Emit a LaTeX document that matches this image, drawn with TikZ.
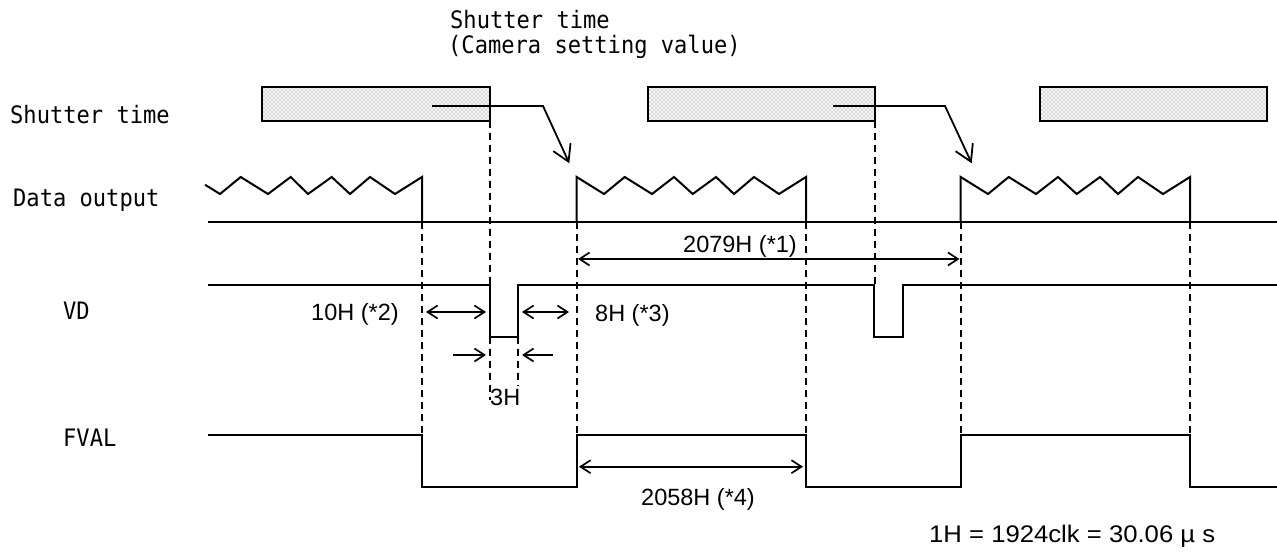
\documentclass[tikz,border=0pt]{standalone}
\usepackage{fontspec}
\setmainfont{Liberation Sans}
\newfontfamily\gothic[FakeStretch=0.92]{DejaVu Sans Mono}
\newfontfamily\widesans[FakeStretch=1.07]{Liberation Sans}
\usetikzlibrary{arrows.meta,patterns}
\pgfdeclarepatternformonly{sdots}{\pgfpoint{-1pt}{-1pt}}{\pgfpoint{5pt}{5pt}}{\pgfpoint{4pt}{4pt}}{%
  \pgfpathcircle{\pgfpoint{0pt}{0pt}}{0.7pt}%
  \pgfpathcircle{\pgfpoint{2pt}{2pt}}{0.7pt}%
  \pgfusepath{fill}}
\tikzset{
  sig/.style={line width=2pt, line join=miter},
  guide/.style={line width=1.7pt, dash pattern=on 7pt off 5pt},
  dim/.style={line width=1.7pt, >={Straight Barb[length=10pt,width=13pt]}},
  shut/.style={line width=1.8pt, -{Straight Barb[length=16pt,width=19pt]}},
  bar/.style={line width=2pt},
  glabel/.style={font=\gothic\fontsize{24}{28}\selectfont, inner sep=0pt, anchor=base west},
  nlabel/.style={font=\fontsize{23.5}{28}\selectfont, inner sep=0pt, anchor=base west},
}
\begin{document}
\begin{tikzpicture}[x=1pt,y=-1pt]
\useasboundingbox[fill=white] (0,0) rectangle (1277,552);

% ---- labels on the left ----
\node[glabel] (lshut) at (10,123) {Shutter time};
\node[glabel] (ldata) at (13,206.7) {Data output};
\node[glabel] (lvd) at (63,319.3) {VD};
\node[glabel] (lfval) at (63,446) {FVAL};
\node[glabel] (ltop1) at (450,28.3) {Shutter time};
\node[glabel] (ltop2) at (448,53) {(Camera setting value)};

% ---- shutter bars ----
\foreach \a/\b in {262/490, 648/875, 1040/1267} {
  \fill[gray!6] (\a,87) rectangle (\b,120.5);
  \fill[pattern=sdots, pattern color=black!55] (\a,87) rectangle (\b,120.5);
  \draw[bar] (\a,87) rectangle (\b,120.5);
}
\draw[shut] (432,106) -- (543,106) -- (569.3,163.3);
\draw[shut] (833,106) -- (945,106) -- (971.7,163.3);

% ---- data output ----
\draw[sig] (208,222) -- (1277,222);
\draw[sig] (205,184.7) -- (220,194) -- (240.7,177) -- (268,194) -- (290.7,177) -- (308,194)
  -- (331.7,177) -- (350,194) -- (370,177) -- (395,194) -- (422,177) -- (422,222);
\foreach \s in {576.7, 960.7} {
  \draw[sig] (\s,222) -- (\s,177) -- (\s+27.3,194) -- (\s+48,177) -- (\s+75.3,194) -- (\s+97.3,177)
    -- (\s+116,194) -- (\s+139.3,177) -- (\s+157.3,194) -- (\s+177.3,177) -- (\s+202.3,194)
    -- (\s+229.3,177) -- (\s+229.3,222);
}

% ---- VD ----
\draw[sig] (208,285) -- (490,285) -- (490,336.7) -- (518,336.7) -- (518,285) -- (874,285)
  -- (874,336.7) -- (902.7,336.7) -- (902.7,285) -- (1277,285);

% ---- FVAL ----
\draw[sig] (208,435) -- (422,435) -- (422,487) -- (576.7,487) -- (576.7,435) -- (806,435)
  -- (806,487) -- (960.7,487) -- (960.7,435) -- (1190,435) -- (1190,487) -- (1277,487);

% ---- guide lines ----
\foreach \x in {422, 576.7, 806, 960.7, 1190} {
  \draw[guide] (\x,222) -- (\x,435);
}
\draw[guide] (490,120.5) -- (490,400);
\draw[guide] (875,120.5) -- (875,285);
\draw[guide] (518,336.7) -- (518,385);

% ---- dimensions ----
\coordinate (a1) at (578,259);   \coordinate (b1) at (959.5,259);
\coordinate (a2) at (426,312);   \coordinate (b2) at (486,312);
\coordinate (a3) at (522,312);   \coordinate (b3) at (569,312);
\coordinate (a4) at (453,355);   \coordinate (b4) at (486,355);
\coordinate (a5) at (553,355);   \coordinate (b5) at (522,355);
\coordinate (a6) at (579,466.7); \coordinate (b6) at (803,466.7);
\draw[dim,<->] (a1) -- (b1);
\draw[dim,<->] (a2) -- (b2);
\draw[dim,<->] (a3) -- (b3);
\draw[dim,->] (a4) -- (b4);
\draw[dim,->] (a5) -- (b5);
\draw[dim,<->] (a6) -- (b6);

\node[nlabel] (t1) at (683,252.7) {2079H (*1)};
\node[nlabel] (t2) at (311,320.7) {10H (*2)};
\node[nlabel] (t3) at (595,321) {8H (*3)};
\node[nlabel] (t4) at (490,405) {3H};
\node[nlabel] (t5) at (641,505) {2058H (*4)};
\node[nlabel, font=\widesans\fontsize{24}{28}\selectfont] (t6) at (929,542.3) {1H = 1924clk = 30.06 µ s};
\end{tikzpicture}
\end{document}
